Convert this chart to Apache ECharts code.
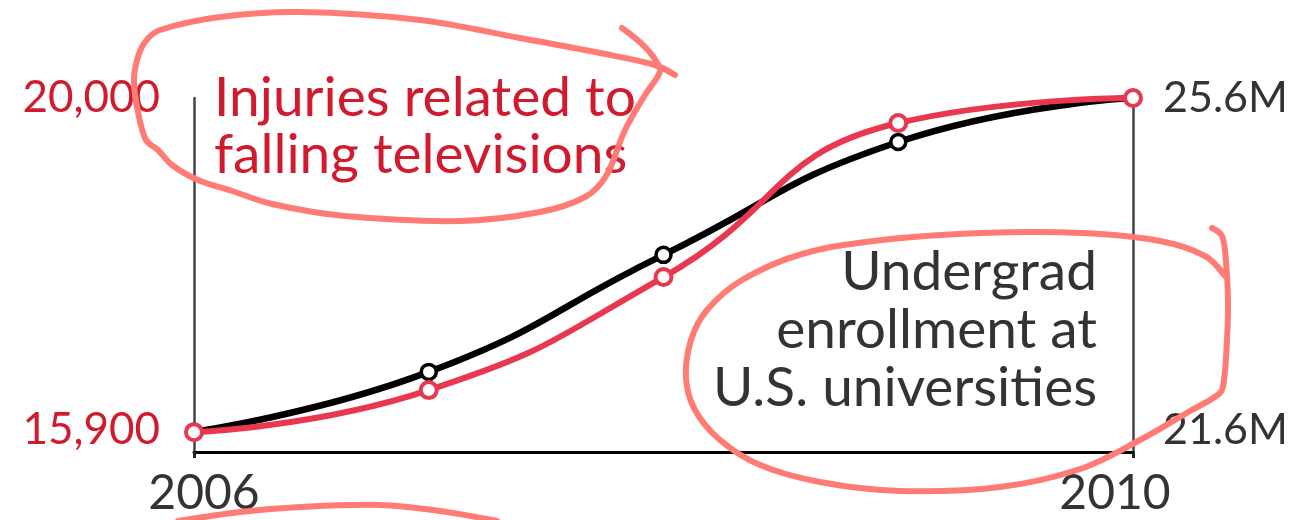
<!DOCTYPE html>
<html><head><meta charset="utf-8">
<script src="https://cdn.jsdelivr.net/npm/echarts@6/dist/echarts.min.js"></script>
<style>html,body{margin:0;padding:0;background:#fff}#c{width:1300px;height:520px}</style>
</head><body><div id="c"></div>
<script>
const years = ['2006','2007','2008','2009','2010'];
const injuries = [15875, 16394, 17790, 19691, 20000];
const enrollment = [21.58, 22.30, 23.71, 25.07, 25.6];
const leftTicks = [15900, 20000];
const rightTicks = [21.6, 25.6];
const injuriesTitle = 'Injuries related to\nfalling televisions';
const enrollTitle = 'Undergrad\nenrollment at\nU.S. universities';

const FONT = 'Lato';
const RED = '#e8374f';
const REDTXT = '#d11a2e';
const SCRIB = '#ff7b74';

const chart = echarts.init(document.getElementById('c'));
const scribble = (pts) => ({
  type: 'polyline', shape: { points: pts, smooth: 0.35 },
  style: { stroke: SCRIB, lineWidth: 6, fill: null, lineCap: 'round', lineJoin: 'round' }, z: 100
});
chart.setOption({
  backgroundColor: '#fff',
  animation: false,
  grid: { left: 194, right: 167, top: 98, bottom: 68 },
  xAxis: {
    type: 'category', data: years, boundaryGap: false,
    axisLine: { lineStyle: { color: '#000', width: 3 } },
    axisTick: { show: true, length: 6, lineStyle: { color: '#222', width: 3 } },
    axisLabel: {
      interval: (i) => i === 0 || i === years.length - 1, margin: 18,
      formatter: (v, i) => i === 0 ? '{a|' + v + '}' : '{b|' + v + '}',
      rich: {
        a: { color: '#333', fontFamily: FONT, fontSize: 48, padding: [0, 0, 0, 20] },
        b: { color: '#333', fontFamily: FONT, fontSize: 48, padding: [0, 36, 0, 0] }
      }
    },
    splitLine: { show: false }
  },
  yAxis: [{
    type: 'value', min: 15630, max: 20000, position: 'left',
    axisLine: { show: true, lineStyle: { color: '#444', width: 2.5 } },
    axisTick: { show: false }, splitLine: { show: false },
    axisLabel: { customValues: leftTicks, color: REDTXT, fontFamily: FONT, fontSize: 44, margin: 34,
      formatter: (v) => v.toLocaleString('en-US') }
  }, {
    type: 'value', min: 21.335, max: 25.6, position: 'right',
    axisLine: { show: true, lineStyle: { color: '#444', width: 2.5 } },
    axisTick: { show: false }, splitLine: { show: false },
    axisLabel: { customValues: rightTicks, color: '#333', fontFamily: FONT, fontSize: 43, margin: 30,
      formatter: (v) => v.toFixed(1) + 'M' }
  }],
  series: [{
    type: 'line', yAxisIndex: 1, data: enrollment, smooth: 0.5,
    lineStyle: { color: '#000', width: 6.5 }, symbol: 'circle', symbolSize: 15,
    itemStyle: { color: '#fff', borderColor: '#000', borderWidth: 3.5 }
  }, {
    type: 'line', yAxisIndex: 0, data: injuries, smooth: 0.5,
    lineStyle: { color: RED, width: 6 }, symbol: 'circle', symbolSize: 16,
    itemStyle: { color: '#fff', borderColor: RED, borderWidth: 4 }
  }],
  graphic: [
    { type: 'text', x: 214, y: 70, style: { text: injuriesTitle, fill: REDTXT, font: '55px ' + FONT, lineHeight: 57 } },
    { type: 'text', x: 1097, y: 243, style: { text: enrollTitle, fill: '#333', font: '55px ' + FONT, lineHeight: 58, align: 'right' } },
    scribble([[675,75],[655,65],[600,53],[520,38],[420,20],[300,12],[220,17],[160,30],[145,42],[137,60],[134,82],[138,112],[146,140],[158,150],[172,165],[198,180],[232,191],[272,204],[345,216],[460,221],[540,212],[585,197],[606,176],[625,130],[645,95],[658,76],[660,68],[645,47],[622,28]]),
    scribble([[1212,228],[1222,236],[1226,262],[1228,300],[1227,340],[1224,380],[1220,393],[1190,411],[1140,440],[1080,469],[1000,487],[900,491],[820,482],[760,465],[720,440],[695,410],[686,378],[691,340],[707,310],[742,280],[802,254],[882,240],[982,233],[1082,233],[1160,241],[1205,256],[1225,276]]),
    scribble([[178,521],[240,512],[300,507],[380,505],[440,511],[497,521]])
  ]
});
</script></body></html>
